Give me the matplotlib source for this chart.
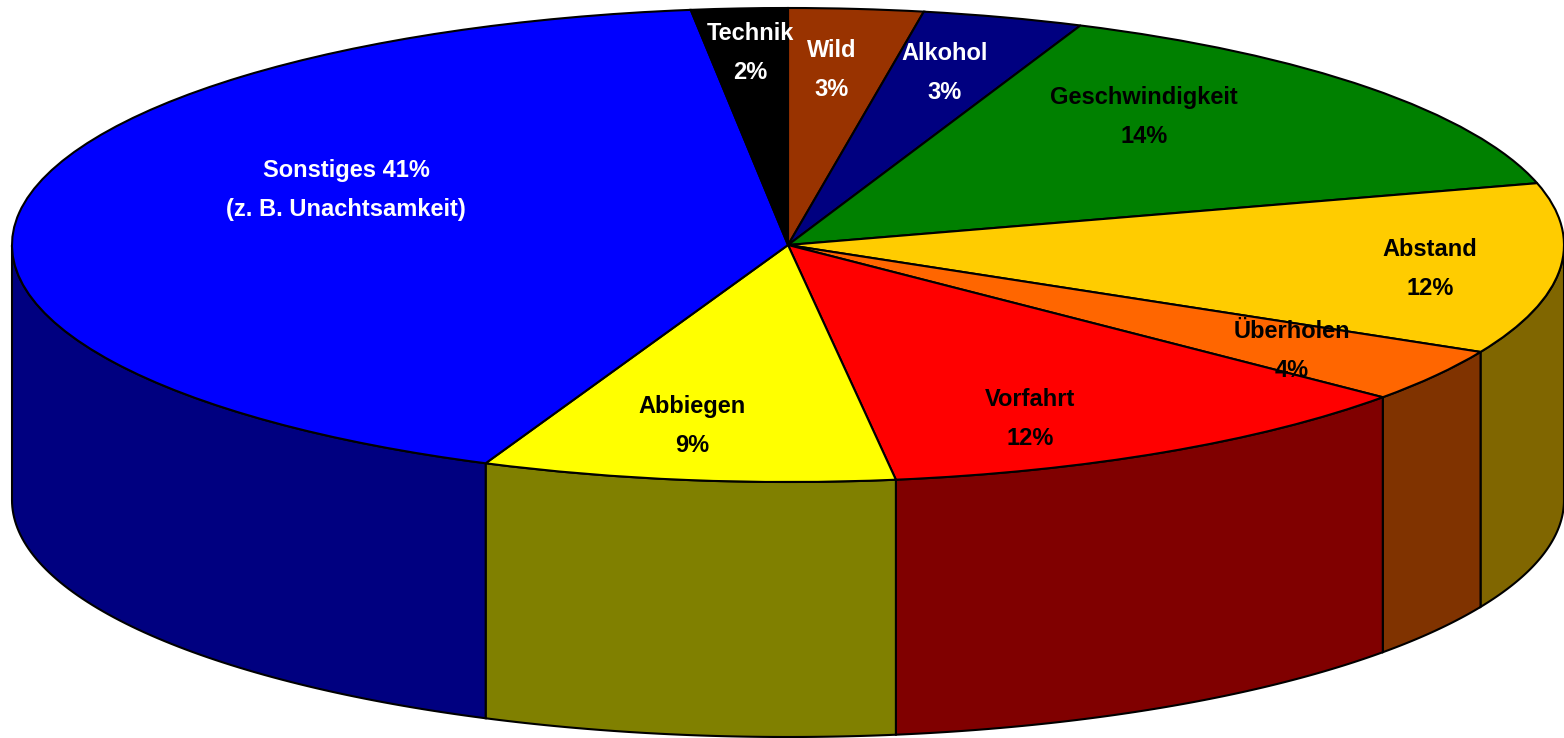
import matplotlib.pyplot as plt
import numpy as np
from matplotlib.patches import Polygon

WIDTH, HEIGHT = 1564, 738
CENTER_X, CENTER_Y = 788, 245
RADIUS_X, RADIUS_Y, DEPTH = 776, 237, 255

# clockwise from 12 o'clock, slice sizes (labels are rounded)
CATEGORIES = ["Wild", "Alkohol", "Geschwindigkeit", "Abstand", "Überholen",
              "Vorfahrt", "Abbiegen", "Sonstiges", "Technik"]
VALUES = [2.8, 3.35, 14.65, 11.65, 3.65, 11.68, 8.59, 41.63, 2.0]
TOP_COLORS = ["#993300", "#000080", "#008000", "#FFCC00", "#FF6600",
              "#FF0000", "#FFFF00", "#0000FF", "#000000"]
SIDE_COLORS = ["#4D1A00", "#000040", "#004000", "#806600", "#803300",
               "#800000", "#808000", "#000080", "#000000"]
LABELS = [
    ("Technik\n2%", 750, 53, "white"),
    ("Wild\n3%", 832, 70, "white"),
    ("Alkohol\n3%", 945, 73, "white"),
    ("Geschwindigkeit\n14%", 1144, 117, "black"),
    ("Abstand\n12%", 1430, 269, "black"),
    ("Überholen\n4%", 1292, 351, "black"),
    ("Vorfahrt\n12%", 1030, 419, "black"),
    ("Abbiegen\n9%", 692, 426, "black"),
    ("Sonstiges 41%\n(z. B. Unachtsamkeit)", 346, 190, "white"),
]

plt.rcParams["font.family"] = ["Liberation Sans", "DejaVu Sans"]


def draw_sides(ax):
    edges = np.cumsum([0] + VALUES) / sum(VALUES) * 2 * np.pi
    drop = DEPTH / RADIUS_Y
    for start, end, color in zip(edges[:-1], edges[1:], SIDE_COLORS):
        start, end = max(start, np.pi / 2), min(end, 3 * np.pi / 2)
        if end <= start:
            continue
        theta = np.linspace(start, end, 80)
        x, y = np.sin(theta), np.cos(theta)
        points = np.column_stack([np.r_[x, x[::-1]], np.r_[y, y[::-1] - drop]])
        ax.add_patch(Polygon(points, facecolor=color, edgecolor="black", linewidth=1.5))


def main():
    fig = plt.figure(figsize=(WIDTH / 100, HEIGHT / 100), dpi=100)
    ax = fig.add_axes([0, 0, 1, 1])
    draw_sides(ax)
    ax.pie(VALUES, colors=TOP_COLORS, startangle=90, counterclock=False,
           wedgeprops={"edgecolor": "black", "linewidth": 1.5})
    ax.set_aspect("auto")
    ax.set_xlim(-CENTER_X / RADIUS_X, (WIDTH - CENTER_X) / RADIUS_X)
    ax.set_ylim((CENTER_Y - HEIGHT) / RADIUS_Y, CENTER_Y / RADIUS_Y)
    ax.axis("off")

    for text, x, y, color in LABELS:
        fig.text(x / WIDTH, 1 - y / HEIGHT, text, color=color, fontsize=17, fontweight="bold",
                 ha="center", va="center", linespacing=1.9)
    fig.savefig("out.png", dpi=100)
    plt.close(fig)


if __name__ == "__main__":
    main()
